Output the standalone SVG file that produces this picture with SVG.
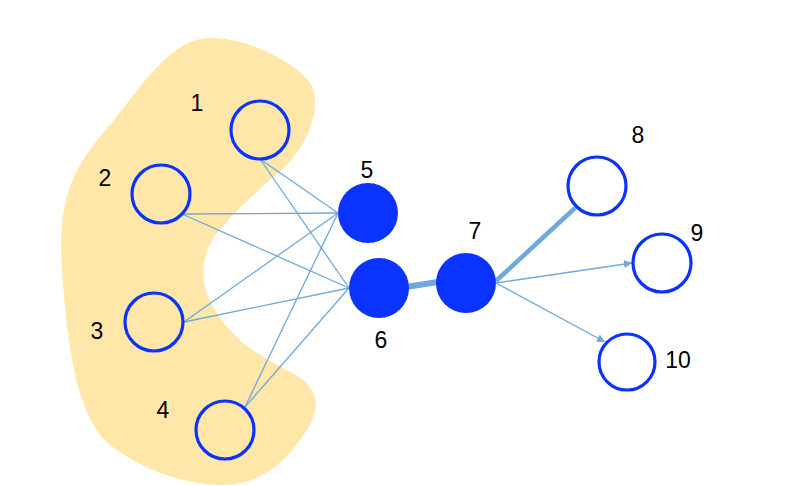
<svg xmlns="http://www.w3.org/2000/svg" width="804" height="486" viewBox="0 0 804 486">
<style>
.n{fill:none;stroke:#0b33ff;stroke-width:3.2}
.f{fill:#0b33ff;stroke:none}
.e{stroke:#6fa8dc;stroke-width:1.3;fill:none}
.t{font-family:"Liberation Sans",Arial,sans-serif;font-size:23px;fill:#000;text-anchor:middle}
</style>
<defs>
<marker id="ar" viewBox="0 0 10 10" refX="10" refY="5" markerWidth="8" markerHeight="8" markerUnits="userSpaceOnUse" orient="auto">
<path d="M0,0 L10,5 L0,10 z" fill="#6fa8dc"/>
</marker>
</defs>
<rect width="804" height="486" fill="#fff"/>
<path id="blob" fill="#fee7a8" d="M207,38 C245,36 290,60 308,80 C325,100 310,150 273,177 C250,198 232,215 218,232 C200,252 198,285 215,310 C230,335 250,352 293,373 C322,390 322,410 300,440 C280,468 255,486 220,485 C180,484 140,468 110,445 C80,420 68,360 62,270 C58,200 70,170 110,125 C140,88 170,40 207,38 Z"/>
<g id="connectors">
<line class="e" x1="260" y1="159" x2="338" y2="213"/>
<line class="e" x1="260" y1="159" x2="349" y2="288"/>
<line class="e" x1="182" y1="214" x2="338" y2="213"/>
<line class="e" x1="182" y1="214" x2="349" y2="288"/>
<line class="e" x1="184" y1="322" x2="338" y2="213"/>
<line class="e" x1="184" y1="322" x2="349" y2="288"/>
<line class="e" x1="245" y1="407" x2="338" y2="213"/>
<line class="e" x1="245" y1="407" x2="349" y2="288"/>
<line x1="406" y1="287" x2="438" y2="282" stroke="#6fa8dc" stroke-width="6"/>
<line x1="496" y1="281" x2="575" y2="208" stroke="#6fa8dc" stroke-width="4.5"/>
<line class="e" x1="496" y1="283" x2="632" y2="263" marker-end="url(#ar)"/>
<line class="e" x1="496" y1="283" x2="605" y2="342" marker-end="url(#ar)"/>
</g>
<g id="node1"><circle class="n" cx="260" cy="130" r="29"/><text class="t" x="197" y="111">1</text></g>
<g id="node2"><circle class="n" cx="161" cy="194" r="29"/><text class="t" x="105" y="186">2</text></g>
<g id="node3"><circle class="n" cx="154" cy="322" r="29"/><text class="t" x="97" y="339">3</text></g>
<g id="node4"><circle class="n" cx="225" cy="430" r="29"/><text class="t" x="163" y="418">4</text></g>
<g id="node5"><circle class="f" cx="368" cy="213" r="30"/><text class="t" x="367" y="178">5</text></g>
<g id="node6"><circle class="f" cx="379" cy="288" r="30"/><text class="t" x="381" y="348">6</text></g>
<g id="node7"><circle class="f" cx="466" cy="283" r="30"/><text class="t" x="475" y="239">7</text></g>
<g id="node8"><circle class="n" cx="597" cy="186" r="29"/><text class="t" x="638" y="143">8</text></g>
<g id="node9"><circle class="n" cx="662" cy="263" r="29"/><text class="t" x="697" y="241">9</text></g>
<g id="node10"><circle class="n" cx="627" cy="362" r="28"/><text class="t" x="678" y="368">10</text></g>
</svg>
